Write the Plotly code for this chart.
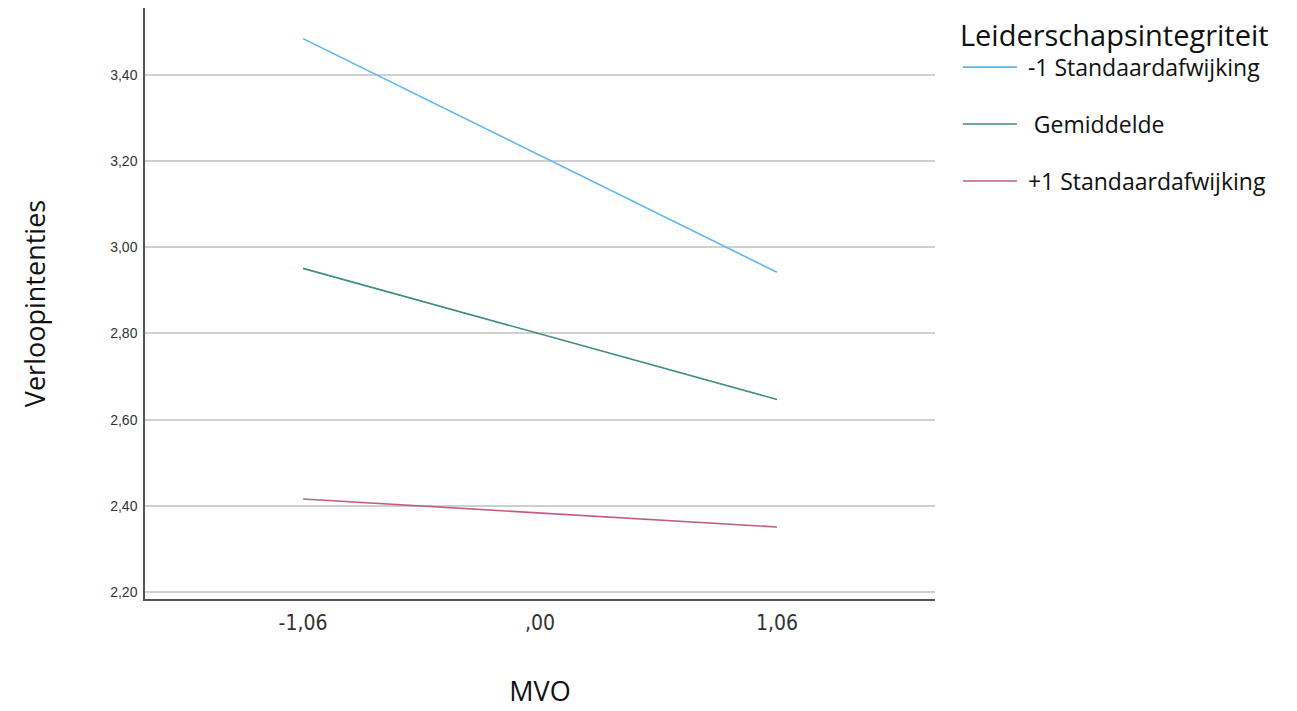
import plotly.graph_objects as go

x_vals = [-1.06, 0.0, 1.06]
x_labels = ["-1,06", ",00", "1,06"]
series_names = ["-1 Standaardafwijking", " Gemiddelde", "+1 Standaardafwijking"]
series_values = [
    [3.484, 3.213, 2.942],
    [2.951, 2.799, 2.647],
    [2.416, 2.3835, 2.351],
]
series_colors = ["#5DB6EE", "#3F8C80", "#C25C84"]
y_ticks = [2.2, 2.4, 2.6, 2.8, 3.0, 3.2, 3.4]
y_labels = ["2,20", "2,40", "2,60", "2,80", "3,00", "3,20", "3,40"]

fig = go.Figure()
for name, vals, col in zip(series_names, series_values, series_colors):
    fig.add_trace(go.Scatter(x=x_vals, y=vals, mode="lines",
                             name="\u00a0" + name.replace(" ", "\u00a0", 1) if name.startswith(" ") else "\u00a0" + name,
                             legendgroup=name,
                             line=dict(color=col, width=1.6)))

fig.update_layout(
    width=1297, height=711,
    paper_bgcolor="white", plot_bgcolor="white",
    margin=dict(l=137, r=370, t=0, b=120),
    font=dict(family="Open Sans", color="#111111"),
    showlegend=True,
    legend=dict(
        x=1.029, y=1.0, xanchor="left", yanchor="top",
        title=dict(text="Leiderschapsintegriteit",
                   font=dict(size=29, family="Open Sans")),
        font=dict(size=23, family="Open Sans"),
        tracegroupgap=24,
        itemwidth=54,
    ),
    xaxis=dict(
        range=[-1.767, 1.767],
        tickvals=x_vals, ticktext=x_labels,
        showgrid=False, zeroline=False,
        showline=True, linecolor="#555555", linewidth=1.5,
        ticks="", ticklabelstandoff=4,
        tickfont=dict(family="DejaVu Sans Condensed, Liberation Sans", size=21, color="#333333"),
        title=dict(text="MVO", font=dict(size=27, family="Open Sans"), standoff=48),
    ),
    yaxis=dict(
        range=[2.184, 3.555],
        tickvals=y_ticks, ticktext=y_labels,
        showgrid=True, gridcolor="#CFCFCF", gridwidth=1.5,
        zeroline=False,
        showline=True, linecolor="#555555", linewidth=1.5,
        ticks="", ticklabelstandoff=3,
        tickfont=dict(family="Liberation Sans", size=14, color="#333333"),
        title=dict(text="Verloopintenties", font=dict(size=27, family="Open Sans"), standoff=57),
    ),
)

fig.write_html("out.html")
